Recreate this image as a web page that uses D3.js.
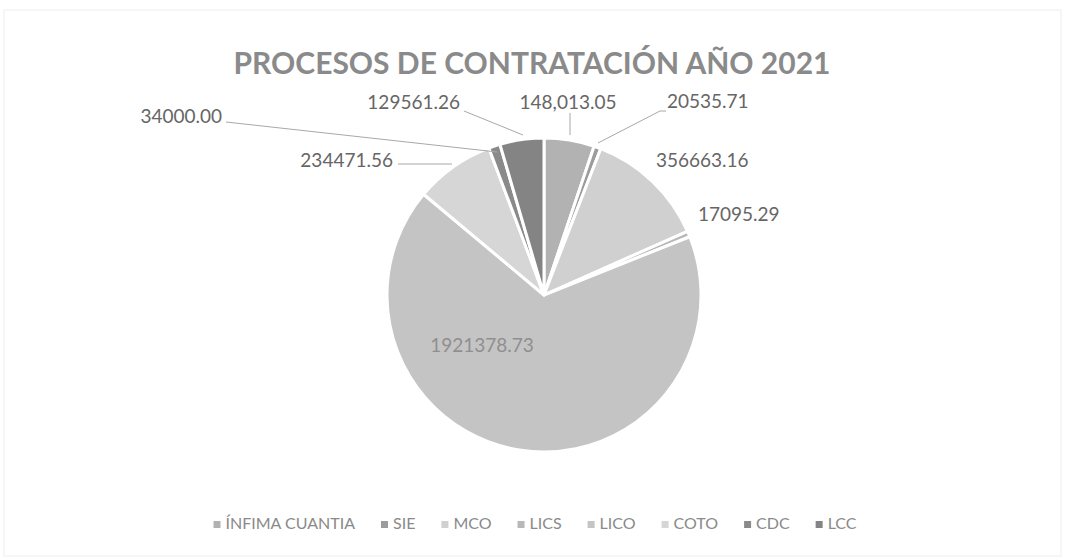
<!DOCTYPE html>
<html>
<head>
<meta charset="utf-8">
<script src="https://cdn.jsdelivr.net/npm/d3@7/dist/d3.min.js"></script>
<style>
  html, body { margin: 0; padding: 0; background: #fff; }
  svg { display: block; }
  text { font-family: Lato, "Open Sans", sans-serif; }
</style>
</head>
<body>
<svg id="chart" width="1065" height="560"></svg>
<script>
const title = "PROCESOS DE CONTRATACIÓN AÑO 2021";
const categories = ["ÍNFIMA CUANTIA", "SIE", "MCO", "LICS", "LICO", "COTO", "CDC", "LCC"];
const values = [148013.05, 20535.71, 356663.16, 17095.29, 1921378.73, 234471.56, 34000.00, 129561.26];
const labels = ["148,013.05", "20535.71", "356663.16", "17095.29", "1921378.73", "234471.56", "34000.00", "129561.26"];
const colors = ["#b2b2b2", "#9c9c9c", "#d0d0d0", "#b8b8b8", "#c4c4c4", "#d6d6d6", "#8a8a8a", "#848484"];

const svg = d3.select("#chart");
const W = 1065, H = 560;
const cx = 544, cy = 295, R = 157;

// faint frame of the scanned chart
svg.append("rect").attr("x", 4).attr("y", 10).attr("width", W - 8).attr("height", H - 14)
  .attr("fill", "none").attr("stroke", "#eeeeee").attr("stroke-width", 1);

svg.append("text").attr("x", 532).attr("y", 74).attr("text-anchor", "middle")
  .attr("font-size", 30).attr("font-weight", "bold").attr("fill", "#8a8a8a")
  .text(title);

const data = categories.map((c, i) => ({ cat: c, value: values[i], label: labels[i], color: colors[i] }));
const pie = d3.pie().value(d => d.value).sort(null);
const arcs = pie(data);
const arc = d3.arc().innerRadius(0).outerRadius(R);

const g = svg.append("g").attr("transform", `translate(${cx},${cy})`);
g.selectAll("path").data(arcs).join("path")
  .attr("d", arc).attr("fill", d => d.data.color)
  .attr("stroke", "#fff").attr("stroke-width", 3).attr("stroke-linejoin", "round");

// label placement (Excel best-fit positions)
const labelPos = [
  { x: 568, y: 104, anchor: "middle", line: [[570, 113], [570, 135]] },
  { x: 667, y: 103, anchor: "start", line: [[598, 143], [660, 111], [666, 111]] },
  { x: 656, y: 162, anchor: "start", line: null },
  { x: 698, y: 216, anchor: "start", line: null },
  { x: 482, y: 347, anchor: "middle", line: null },
  { x: 393, y: 162, anchor: "end", line: [[398, 164], [452, 164]] },
  { x: 222, y: 118, anchor: "end", line: [[226, 122], [497, 152]] },
  { x: 460, y: 104, anchor: "end", line: [[464, 111], [523, 135]] }
];
arcs.forEach((a, i) => {
  const p = labelPos[i];
  if (p.line) {
    svg.append("path").attr("d", d3.line()(p.line)).attr("fill", "none")
      .attr("stroke", "#a8a8a8").attr("stroke-width", 1);
  }
  svg.append("text").attr("x", p.x).attr("y", p.y).attr("text-anchor", p.anchor)
    .attr("dominant-baseline", "middle")
    .attr("font-size", 19).attr("fill", i === 4 ? "#8f8f8f" : "#666666")
    .text(a.data.label);
});

// legend, centred
const legend = svg.append("g");
let lx = 0;
const ly = 525;
data.forEach((d, i) => {
  legend.append("rect").attr("x", lx).attr("y", ly - 4).attr("width", 7).attr("height", 7)
    .attr("fill", d.color);
  const t = legend.append("text").attr("x", lx + 12).attr("y", ly).attr("dominant-baseline", "middle")
    .attr("font-size", 16).attr("fill", "#8a8a8a").text(d.cat);
  lx += 12 + t.node().getComputedTextLength() + (i < data.length - 1 ? 26 : 0);
});
legend.attr("transform", `translate(${535 - lx / 2},0)`);
</script>
</body>
</html>
